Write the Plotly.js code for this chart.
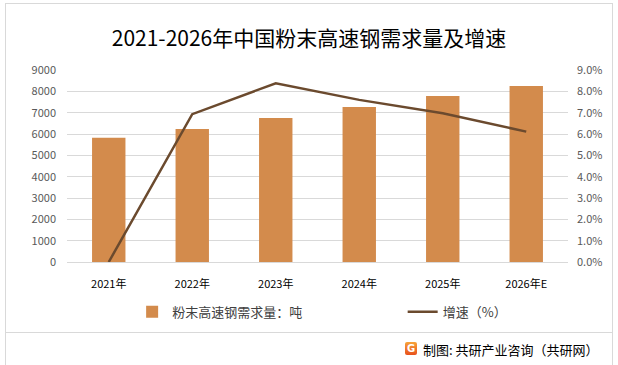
<!DOCTYPE html>
<html>
<head>
<meta charset="utf-8">
<script src="https://cdn.plot.ly/plotly-3.0.1.min.js"></script>
<style>
  html,body{margin:0;padding:0;background:#fff;}
  #wrap{position:relative;width:618px;height:365px;overflow:hidden;}
  #chart{width:618px;height:365px;}
  #frame{position:absolute;left:5px;top:3px;width:606px;height:370px;border:1px solid #d9d9d9;pointer-events:none;}
  #sep{position:absolute;left:5px;top:332px;width:607px;height:0;border-top:1px solid #d9d9d9;pointer-events:none;}
  #logo{position:absolute;left:405px;top:342px;width:12px;height:13px;background:linear-gradient(#f7a43a,#e8501c);border-radius:2px;color:#fff;font:bold 10px "DejaVu Sans";text-align:center;line-height:13px;}
</style>
</head>
<body>
<div id="wrap">
  <div id="chart"></div>
  <div id="frame"></div>
  <div id="sep"></div>
  <div id="logo">G</div>
</div>
<script>
var categories = ["2021年","2022年","2023年","2024年","2025年","2026年E"];
var demand = [5830, 6235, 6755, 7270, 7780, 8250];
var growth = [0.0, 6.93, 8.38, 7.60, 6.97, 6.11];
var leftTicks = [0,1000,2000,3000,4000,5000,6000,7000,8000,9000];
var rightTicks = [0,1,2,3,4,5,6,7,8,9];
var rightTickText = rightTicks.map(function(v){return v.toFixed(1)+"%";});

var font = "'Microsoft YaHei','Noto Sans CJK SC','DejaVu Sans',sans-serif";

var traces = [
  {
    type: "bar",
    x: categories,
    y: demand,
    name: "粉末高速钢需求量：吨",
    marker: {color: "#D38B4C"},
    width: 0.4,
    yaxis: "y",
    legend: "legend"
  },
  {
    type: "scatter",
    mode: "lines",
    x: categories,
    y: growth,
    name: "增速（%）",
    line: {color: "#6B4A2E", width: 2.5},
    yaxis: "y2",
    legend: "legend2"
  }
];

var legendFont = {family: font, size: 13, color: "#404040"};

var layout = {
  width: 618,
  height: 365,
  margin: {l: 67, r: 50, t: 70, b: 103},
  paper_bgcolor: "#ffffff",
  plot_bgcolor: "#ffffff",
  font: {family: font, size: 11, color: "#595959"},
  title: {
    text: "2021-2026年中国粉末高速钢需求量及增速",
    font: {family: font, size: 21, color: "#000000"},
    x: 0.5, xanchor: "center", y: 0.895, yanchor: "middle"
  },
  xaxis: {
    type: "category",
    showgrid: false,
    zeroline: false,
    showline: true,
    linecolor: "#d9d9d9",
    linewidth: 1,
    ticks: "",
    tickfont: {family: font, size: 11, color: "#000000"},
    ticklabelstandoff: 12
  },
  yaxis: {
    range: [0, 9000],
    tickvals: leftTicks,
    ticktext: leftTicks.map(String),
    showgrid: true,
    gridcolor: "#d9d9d9",
    gridwidth: 1,
    zeroline: false,
    showline: false,
    ticks: "",
    tickfont: {family: font, size: 11, color: "#595959"},
    ticklabelstandoff: 10
  },
  yaxis2: {
    range: [0, 9],
    overlaying: "y",
    side: "right",
    tickvals: rightTicks,
    ticktext: rightTickText,
    showgrid: false,
    zeroline: false,
    showline: false,
    ticks: "",
    tickfont: {family: font, size: 11, color: "#595959"},
    ticklabelstandoff: 8
  },
  showlegend: true,
  legend: {
    orientation: "h",
    x: 0.13, xanchor: "left",
    y: -0.26, yanchor: "middle",
    font: legendFont,
    bgcolor: "rgba(0,0,0,0)"
  },
  legend2: {
    orientation: "h",
    x: 0.67, xanchor: "left",
    y: -0.26, yanchor: "middle",
    font: legendFont,
    bgcolor: "rgba(0,0,0,0)"
  },
  annotations: [
    {
      xref: "paper", yref: "paper",
      x: 1.066, y: -0.455,
      xanchor: "right", yanchor: "middle",
      text: "制图: 共研产业咨询（共研网）",
      showarrow: false,
      font: {family: font, size: 13, color: "#000000"}
    }
  ]
};

Plotly.newPlot("chart", traces, layout, {displayModeBar: false, staticPlot: true});
</script>
</body>
</html>
